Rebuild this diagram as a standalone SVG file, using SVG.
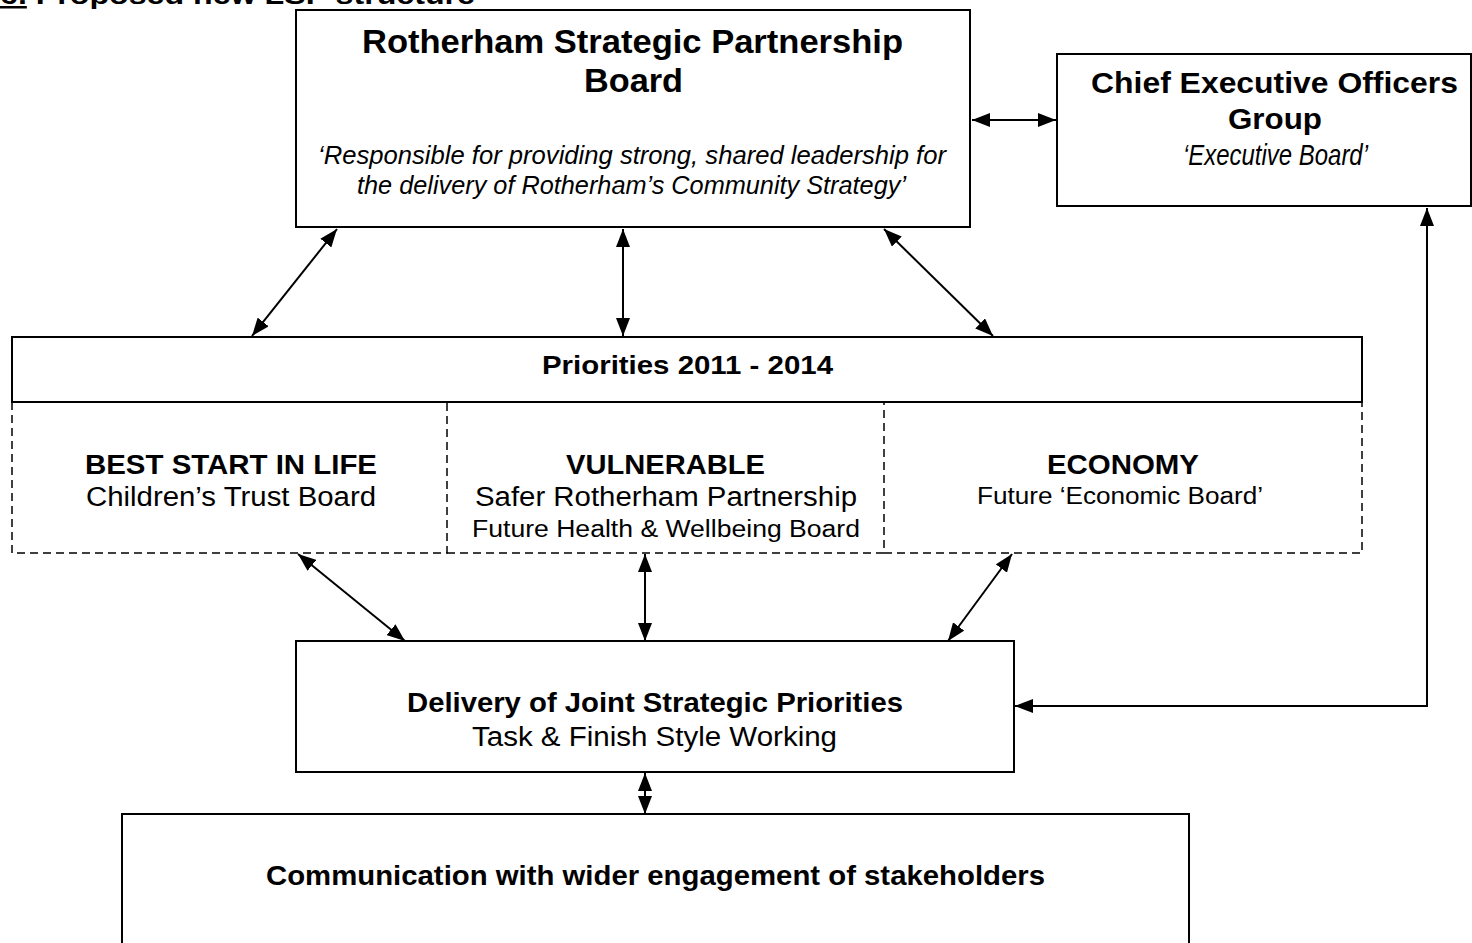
<svg xmlns="http://www.w3.org/2000/svg" width="1472" height="943" viewBox="0 0 1472 943">
  <style>
    text { font-family: "Liberation Sans", Arial, sans-serif; fill: #000; }
    .b { font-weight: bold; }
    .i { font-style: italic; }
    .box { fill: #fff; stroke: #000; stroke-width: 2; }
    .dash { fill: none; stroke: #000; stroke-width: 1.5; stroke-dasharray: 8 5; }
    .conn { fill: none; stroke: #000; stroke-width: 2; marker-start: url(#head); marker-end: url(#head); }
  </style>
  <defs>
    <marker id="head" viewBox="0 0 18 14" refX="18" refY="7" markerWidth="18" markerHeight="14" markerUnits="userSpaceOnUse" orient="auto-start-reverse">
      <path d="M0,0 L18,7 L0,14 z" fill="#000"/>
    </marker>
  </defs>

  <rect width="1472" height="943" fill="#fff"/>

  <!-- section heading, clipped at the top edge -->
  <g id="heading">
    <text class="b" x="0" y="4" font-size="25" textLength="475" lengthAdjust="spacingAndGlyphs"><tspan text-decoration="underline">6.</tspan> Proposed new LSP structure</text>
  </g>

  <g id="lsp-board">
    <rect class="box" x="296" y="10" width="674" height="217"/>
    <text class="b" x="362" y="53" font-size="34" textLength="541" lengthAdjust="spacingAndGlyphs">Rotherham Strategic Partnership</text>
    <text class="b" x="584" y="92" font-size="34" textLength="99" lengthAdjust="spacingAndGlyphs">Board</text>
    <text class="i" x="318" y="164" font-size="25" textLength="628" lengthAdjust="spacingAndGlyphs">‘Responsible for providing strong, shared leadership for</text>
    <text class="i" x="357" y="194" font-size="25" textLength="549" lengthAdjust="spacingAndGlyphs">the delivery of Rotherham’s Community Strategy’</text>
  </g>

  <g id="ceo-group">
    <rect class="box" x="1057" y="54" width="414" height="152"/>
    <text class="b" x="1091" y="93" font-size="29" textLength="367" lengthAdjust="spacingAndGlyphs">Chief Executive Officers</text>
    <text class="b" x="1228" y="129" font-size="29" textLength="94" lengthAdjust="spacingAndGlyphs">Group</text>
    <text class="i" x="1183" y="165" font-size="29" textLength="185" lengthAdjust="spacingAndGlyphs">‘Executive Board’</text>
  </g>

  <g id="priorities">
    <rect class="box" x="12" y="337" width="1350" height="65"/>
    <text class="b" x="542" y="374" font-size="26" textLength="291" lengthAdjust="spacingAndGlyphs">Priorities 2011 - 2014</text>
  </g>

  <g id="best-start">
    <path class="dash" d="M12,402 V553 H447 V402"/>
    <text class="b" x="85" y="474" font-size="27" textLength="292" lengthAdjust="spacingAndGlyphs">BEST START IN LIFE</text>
    <text x="86" y="506" font-size="27" textLength="290" lengthAdjust="spacingAndGlyphs">Children’s Trust Board</text>
  </g>

  <g id="vulnerable">
    <path class="dash" d="M447,553 H884 V402"/>
    <text class="b" x="566" y="474" font-size="27" textLength="199" lengthAdjust="spacingAndGlyphs">VULNERABLE</text>
    <text x="475" y="506" font-size="27" textLength="382" lengthAdjust="spacingAndGlyphs">Safer Rotherham Partnership</text>
    <text x="472" y="537" font-size="23" textLength="388" lengthAdjust="spacingAndGlyphs">Future Health &amp; Wellbeing Board</text>
  </g>

  <g id="economy">
    <path class="dash" d="M884,553 H1362 V402"/>
    <text class="b" x="1047" y="474" font-size="27" textLength="152" lengthAdjust="spacingAndGlyphs">ECONOMY</text>
    <text x="977" y="504" font-size="23" textLength="286" lengthAdjust="spacingAndGlyphs">Future ‘Economic Board’</text>
  </g>

  <g id="delivery">
    <rect class="box" x="296" y="641" width="718" height="131"/>
    <text class="b" x="407" y="712" font-size="27" textLength="496" lengthAdjust="spacingAndGlyphs">Delivery of Joint Strategic Priorities</text>
    <text x="472" y="746" font-size="27" textLength="365" lengthAdjust="spacingAndGlyphs">Task &amp; Finish Style Working</text>
  </g>

  <g id="communication">
    <rect class="box" x="122" y="814" width="1067" height="200"/>
    <text class="b" x="266" y="885" font-size="27" textLength="779" lengthAdjust="spacingAndGlyphs">Communication with wider engagement of stakeholders</text>
  </g>

  <g id="connectors">
    <line class="conn" x1="972" y1="120" x2="1056" y2="120"/>
    <line class="conn" x1="337" y1="229" x2="252" y2="336"/>
    <line class="conn" x1="623" y1="229" x2="623" y2="336"/>
    <line class="conn" x1="884" y1="229" x2="993" y2="336"/>
    <line class="conn" x1="298" y1="554" x2="405" y2="641"/>
    <line class="conn" x1="645" y1="554" x2="645" y2="641"/>
    <line class="conn" x1="1012" y1="554" x2="948" y2="641"/>
    <line class="conn" x1="645" y1="773" x2="645" y2="814"/>
    <polyline class="conn" points="1427,208 1427,706 1015,706"/>
  </g>
</svg>
